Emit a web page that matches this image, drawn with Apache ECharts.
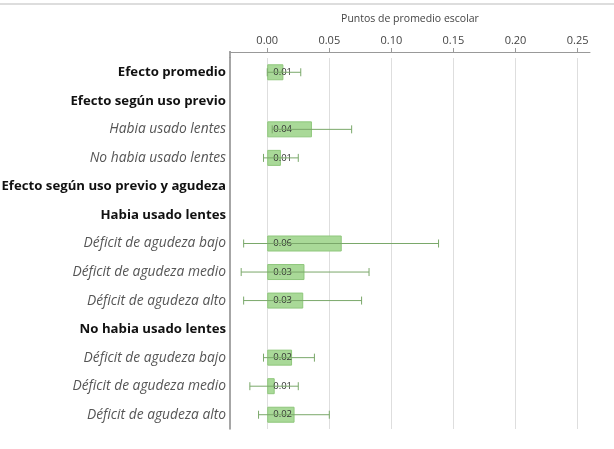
<!DOCTYPE html>
<html>
<head>
<meta charset="utf-8">
<script src="https://cdn.jsdelivr.net/npm/echarts@6/dist/echarts.min.js"></script>
<style>
  html, body { margin: 0; padding: 0; background: #fff; }
  #chart { width: 614px; height: 449px; }
</style>
</head>
<body>
<div id="chart"></div>
<script>
// filas del gráfico (de arriba a abajo)
var categories = [
    'Efecto promedio',
    'Efecto según uso previo',
    'Habia usado lentes',
    'No habia usado lentes',
    'Efecto según uso previo y agudeza',
    'Habia usado lentes',
    'Déficit de agudeza bajo',
    'Déficit de agudeza medio',
    'Déficit de agudeza alto',
    'No habia usado lentes',
    'Déficit de agudeza bajo',
    'Déficit de agudeza medio',
    'Déficit de agudeza alto'
];
// h = encabezado (negrita), s = subgrupo (cursiva)
var rowLevel = ['h', 'h', 's', 's', 'h', 'h', 's', 's', 's', 'h', 's', 's', 's'];

// efecto estimado y límites del intervalo (null = fila de título)
var effect = [0.013, null, 0.036, 0.011, null, null, 0.060, 0.030, 0.029, null, 0.020, 0.006, 0.022];
var ciLow  = [0.000, null, 0.004, -0.003, null, null, -0.019, -0.021, -0.019, null, -0.003, -0.014, -0.007];
var ciHigh = [0.027, null, 0.068, 0.025, null, null, 0.138, 0.082, 0.076, null, 0.038, 0.025, 0.050];

var tickValues = [0, 0.05, 0.10, 0.15, 0.20, 0.25];

var barData = effect.map(function (v) { return v === null ? '-' : v; });
var errData = [];
for (var i = 0; i < categories.length; i++) {
    if (ciLow[i] !== null) errData.push([i, ciLow[i], ciHigh[i]]);
}

var myChart = echarts.init(document.getElementById('chart'));
var option = {
    animation: false,
    textStyle: {fontFamily: 'Open Sans'},
    graphic: [{
        type: 'line',
        shape: {x1: 0, y1: 4, x2: 614, y2: 4},
        style: {stroke: '#bbbbbb', lineWidth: 1}
    }, {
        // prolonga el eje vertical hasta el eje superior, como en el original
        type: 'line',
        shape: {x1: 230, y1: 51, x2: 230, y2: 58},
        style: {stroke: '#888', lineWidth: 1.5}
    }],
    grid: {left: 230, right: 24, top: 58, bottom: 20, outerBoundsMode: 'none'},
    xAxis: {
        type: 'value',
        position: 'top',
        offset: 6,
        min: -0.03,
        max: 0.26,
        name: 'Puntos de promedio escolar',
        nameLocation: 'middle',
        nameGap: 27,
        nameTextStyle: {color: '#444', fontSize: 10.5},
        axisLine: {show: true, lineStyle: {color: '#999'}},
        axisTick: {show: true, customValues: tickValues, length: 4, lineStyle: {color: '#999'}},
        axisLabel: {
            customValues: tickValues,
            color: '#444',
            fontSize: 11,
            margin: 6,
            formatter: function (v) { return v.toFixed(2); }
        },
        splitLine: {show: true, lineStyle: {color: '#dedede'}}
    },
    yAxis: {
        type: 'category',
        inverse: true,
        data: categories,
        axisLine: {show: true, onZero: false, lineStyle: {color: '#888', width: 1.5}},
        axisTick: {show: false},
        axisLabel: {
            margin: 4,
            formatter: function (val, idx) {
                return rowLevel[idx] === 'h' ? '{h|' + val + '}' : '{s|' + val + '}';
            },
            rich: {
                h: {fontWeight: 'bold', color: '#111', fontSize: 13.2, fontFamily: 'Open Sans'},
                s: {fontStyle: 'italic', color: '#555', fontSize: 13.8, fontFamily: 'Open Sans'}
            }
        }
    },
    series: [
        {
            type: 'bar',
            data: barData,
            barWidth: 16,
            itemStyle: {color: '#a9d998', borderColor: '#8fc77c', borderWidth: 1},
            label: {
                show: true,
                position: 'insideLeft',
                distance: 6,
                color: '#333',
                fontSize: 9.5,
                formatter: function (p) { return p.value.toFixed(2); }
            },
            z: 2
        },
        {
            type: 'custom',
            data: errData,
            z: 3,
            renderItem: function (params, api) {
                var y = api.value(0);
                var a = api.coord([api.value(1), y]);
                var b = api.coord([api.value(2), y]);
                var h = 4;
                var st = {stroke: '#7aa86a', lineWidth: 1};
                return {
                    type: 'group',
                    children: [
                        {type: 'line', shape: {x1: a[0], y1: a[1], x2: b[0], y2: b[1]}, style: st},
                        {type: 'line', shape: {x1: a[0], y1: a[1] - h, x2: a[0], y2: a[1] + h}, style: st},
                        {type: 'line', shape: {x1: b[0], y1: b[1] - h, x2: b[0], y2: b[1] + h}, style: st}
                    ]
                };
            },
            encode: {x: [1, 2], y: 0}
        }
    ]
};
myChart.setOption(option);
</script>
</body>
</html>
